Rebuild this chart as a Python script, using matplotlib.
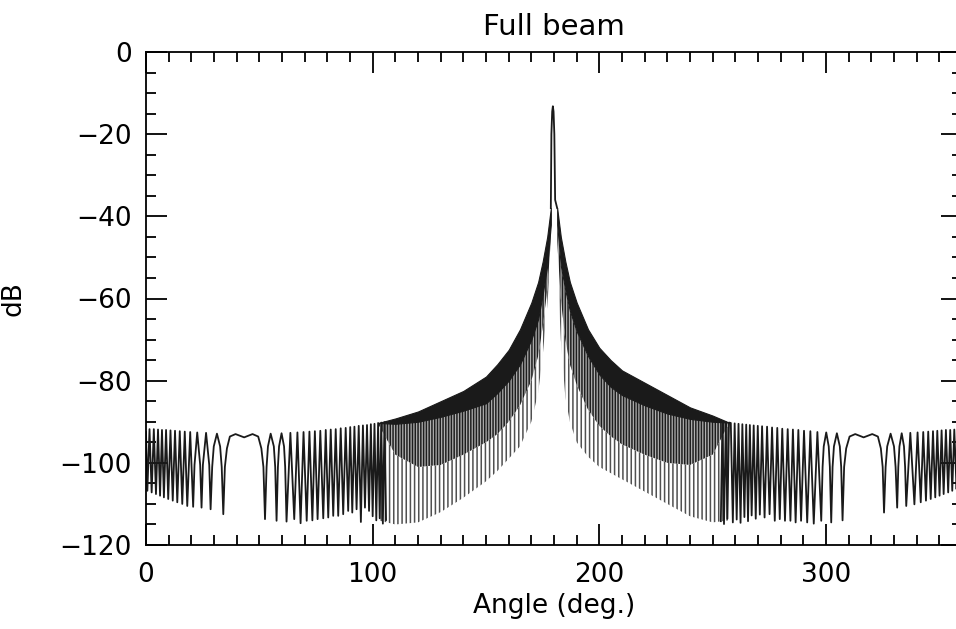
import matplotlib
matplotlib.use("Agg")
import matplotlib.pyplot as plt
from matplotlib.ticker import MultipleLocator

# outer side lobes, left part (angle, dB), peaks / nulls
left_ang = [0.0, 0.6, 1.55, 2.5, 3.45, 4.4, 5.3, 6.2, 7.05, 7.9, 8.85, 9.8, 10.8, 11.8,
            12.8, 13.8, 14.9, 16.0, 17.1, 18.2, 19.5, 20.8,
            21.4, 22.6, 23.9, 24.5, 25.1, 26.5, 27.9, 28.5, 29.2, 29.9, 31.3, 32.7, 33.4, 34.1,
            34.8, 35.7, 37.0, 39.5, 43.3, 47.0, 49.5, 50.9, 51.8, 52.5,
            53.2, 53.8, 55.0, 56.4, 57.0, 57.6, 58.2, 58.7, 59.8, 60.9, 61.4, 62.0,
            63.7, 65.4, 66.8, 68.2, 69.5, 70.9, 72.1, 73.4, 74.5, 75.7,
            76.9, 78.2, 79.3, 80.4, 81.5, 82.6, 83.7, 84.8, 85.9, 87.0, 88.1, 89.2, 90.1, 91.0,
            91.95, 92.9, 93.85, 94.8, 95.7, 96.6, 97.5, 98.4, 99.2, 100.0, 100.8, 101.6, 102.4,
            103.1, 103.8, 104.5, 105.2, 105.9]
left_db = [-92.5, -106.8, -91.8, -107.2, -91.8, -107.6, -91.9, -108.0, -92.0, -108.4, -92.0,
           -108.8, -92.1, -109.2, -92.2, -109.6, -92.3, -110.0, -92.4, -110.5, -92.5, -110.7,
           -100.5, -92.6, -100.5, -110.9, -100.5, -92.7, -100.5, -111.3,
           -101.0, -96.0, -92.9, -96.0, -101.0, -112.5,
           -101.0, -96.5, -93.6, -93.0, -93.8, -93.0, -93.6, -96.5, -101.0, -113.7,
           -101.0, -96.0, -92.9, -96.0, -101.0, -114.1, -101.0, -96.0, -92.8, -96.0, -101.0, -114.3,
           -92.7, -113.7, -92.6, -114.7, -92.5, -114.1, -92.4,
           -114.0, -92.3, -113.7, -92.2, -113.5, -92.0, -113.3, -91.9, -112.9, -91.8, -112.9,
           -91.6, -112.5, -91.5, -111.7, -91.3, -112.1, -91.2, -111.3, -91.0, -114.4, -90.9,
           -110.9, -90.8, -111.7, -90.6, -113.0, -90.5, -114.0, -90.3,
           -113.5, -90.2, -114.8, -90.1, -113.9]

# outer side lobes, right part
right_ang = [253.6, 254.3, 255.0, 255.8, 256.5,
             257.2, 258.0, 258.9, 259.7, 260.6, 261.4, 262.3, 263.1, 264.0, 264.8, 265.6, 266.4,
             267.2, 268.1, 269.0, 269.9, 270.8, 271.8, 272.9, 274.0, 275.1, 276.2, 277.4, 278.5,
             279.6, 280.7, 281.9, 283.1, 284.3, 285.4, 286.6, 287.8, 289.0, 290.3, 291.7, 293.1,
             294.6, 296.2, 297.9,
             298.5, 299.0, 300.1, 301.2, 301.7, 302.3, 302.9, 303.5, 304.8, 306.1, 306.7, 307.3,
             308.0, 308.9, 310.4, 312.9, 316.6, 320.4, 322.9, 324.2, 325.0, 325.6,
             326.3, 327.0, 328.5, 330.0, 330.7, 331.4, 331.9, 332.4, 333.4, 334.4, 334.9, 335.4,
             337.2, 339.0, 340.4, 341.8, 342.9, 344.1, 345.1, 346.2,
             347.2, 348.2, 349.1, 350.1, 351.0, 351.9, 352.9, 353.9, 354.8, 355.7, 356.6, 357.6,
             358.5, 359.4, 360.0]
right_db = [-114.2, -89.9, -114.9, -90.1, -113.6,
            -90.2, -90.3, -114.5, -90.4, -113.8, -90.5, -114.6, -90.6, -113.2, -90.7, -114.2,
            -90.8, -112.8, -90.9, -113.6, -91.0, -112.6, -91.1, -113.3, -91.2, -112.5, -91.4,
            -114.1, -91.5, -113.7, -91.7, -114.1, -91.8, -114.1, -91.9, -114.5, -92.0, -114.1,
            -92.2, -114.5, -92.3, -114.8, -92.5, -114.1,
            -101.0, -96.0, -92.6, -96.0, -101.0, -114.5, -101.0, -96.0, -92.8, -96.0, -101.0, -114.0,
            -101.0, -96.5, -93.6, -93.0, -93.8, -93.0, -93.6, -96.5, -101.0, -112.1,
            -101.0, -96.0, -92.9, -96.0, -101.0, -110.9, -101.0, -96.0, -92.8, -96.0, -101.0, -110.5,
            -92.7, -110.1, -92.6, -109.6, -92.5, -109.2, -92.4,
            -108.8, -92.3, -108.4, -92.2, -108.0, -92.1, -107.6, -92.0, -107.2, -92.0, -106.8,
            -91.9, -106.4, -91.8, -106.0, -92.2]

# dense region either side of the main beam: envelopes
# top = upper edge, mid = foot of the solid dark part, low = foot of the dense stripes, bot = spike tips
band_l_ang = [102.4, 110, 120, 130, 140, 150, 155, 160, 165, 170, 173, 175, 177, 178.6]
band_l_top = [-90.3, -89.2, -87.5, -85.0, -82.5, -79.0, -76.0, -72.5, -67.5, -61.0, -56.0, -51.0, -45.0, -38.0]
band_l_mid = [-90.3, -90.5, -90.0, -88.8, -87.3, -85.5, -83.0, -80.0, -76.0, -70.0, -65.0, -59.0, -52.0, -42.0]
band_l_low = [-90.5, -98.0, -101.0, -100.5, -98.0, -95.0, -93.0, -90.0, -86.0, -80.0, -74.0, -67.0, -58.0, -46.0]
band_l_bot = [-114.0, -115.0, -114.5, -112.0, -108.5, -104.5, -102.0, -99.0, -96.0, -90.0, -83.0, -74.0, -62.0, -50.0]

band_r_ang = [181.4, 183, 185, 187, 190, 195, 200, 205, 210, 220, 230, 240, 250, 257.2]
band_r_top = [-38.0, -45.0, -51.0, -56.0, -61.0, -67.5, -72.0, -75.0, -77.5, -80.5, -83.5, -86.5, -88.5, -90.2]
band_r_mid = [-42.0, -52.0, -58.0, -63.0, -68.0, -74.0, -78.5, -81.5, -83.5, -86.0, -88.0, -89.3, -90.0, -90.2]
band_r_low = [-46.0, -60.0, -70.0, -76.0, -81.0, -87.0, -91.0, -93.5, -95.5, -98.0, -100.0, -100.5, -98.0, -90.4]
band_r_bot = [-50.0, -70.0, -84.0, -90.0, -95.0, -98.5, -101.0, -102.5, -104.0, -107.0, -110.0, -113.0, -114.5, -114.0]

# main beam
beam_ang = [178.6, 178.85, 179.2, 179.5, 179.8, 180.15, 180.5, 181.4]
beam_db = [-38.0, -20.0, -14.5, -13.2, -14.5, -20.0, -36.0, -38.0]

plt.rcParams['font.family'] = ['DejaVu Sans']
plt.rcParams['hatch.linewidth'] = 1.1

fig = plt.figure(figsize=(9.56, 6.29), dpi=100)
ax = fig.add_axes([146 / 956, 84 / 629, 816 / 956, 493 / 629])

line_col = '#1a1a1a'
for ang, top, mid, low, bot in [(band_l_ang, band_l_top, band_l_mid, band_l_low, band_l_bot),
                                (band_r_ang, band_r_top, band_r_mid, band_r_low, band_r_bot)]:
    ax.fill_between(ang, bot, low, facecolor='none', edgecolor='#505050',
                    hatch='||||', linewidth=0)
    ax.fill_between(ang, low, mid, facecolor='#b0b0b0', edgecolor='#1e1e1e',
                    hatch='||||||', linewidth=0)
    ax.fill_between(ang, mid, top, color=line_col, linewidth=0.8)

ax.plot(left_ang, left_db, color=line_col, lw=1.3)
ax.plot(right_ang, right_db, color=line_col, lw=1.3)
ax.plot(beam_ang, beam_db, color=line_col, lw=1.3)

ax.set_xlim(0, 360)
ax.set_ylim(-120, 0)
ax.xaxis.set_major_locator(MultipleLocator(100))
ax.xaxis.set_minor_locator(MultipleLocator(10))
ax.yaxis.set_major_locator(MultipleLocator(20))
ax.yaxis.set_minor_locator(MultipleLocator(5))
ax.tick_params(which='both', direction='in', top=True, right=True, width=1.3, labelsize=19)
ax.tick_params(which='major', length=15)
ax.tick_params(which='minor', length=7)
ax.tick_params(axis='x', pad=12)
ax.tick_params(axis='y', pad=10)
for s in ax.spines.values():
    s.set_linewidth(1.3)

ax.set_title('Full beam', fontsize=21, pad=12)
ax.set_xlabel('Angle (deg.)', fontsize=19, labelpad=4)
ax.set_ylabel('dB', fontsize=19)
ax.yaxis.set_label_coords(-0.146, 0.5)

fig.savefig('out.png', dpi=100)
